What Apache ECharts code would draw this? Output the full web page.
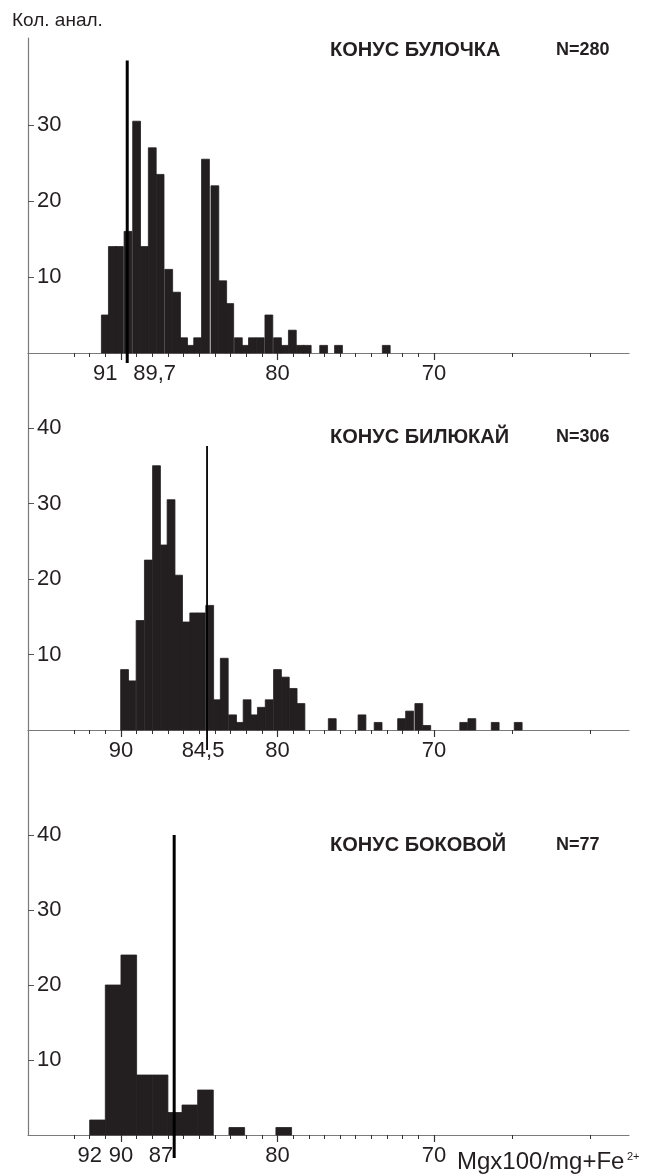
<!DOCTYPE html>
<html><head><meta charset="utf-8">
<script src="https://cdn.jsdelivr.net/npm/echarts@6/dist/echarts.min.js"></script>
<style>html,body{margin:0;padding:0;background:#fff}#c{width:647px;height:1176px}</style>
</head><body><div id="c"></div>
<script>
// ---- DATA ----
// Panel 1: КОНУС БУЛОЧКА (bin centres, counts)
const bins1   = [91.0, 90.55, 90.1, 89.55, 89.0, 88.5, 88.0, 87.5, 86.95, 86.45, 86.0, 85.55, 85.1, 84.6, 84.0, 83.5, 83.05, 82.5, 82.05, 81.6, 81.1, 80.55, 80.0, 79.55, 79.05, 78.55, 78.1, 77.05, 76.1, 73.05];
const counts1 = [5, 14, 14, 16, 30.5, 14, 27, 23.5, 11, 8, 2, 1, 2, 25.5, 22, 9.5, 6.5, 2, 1, 2, 2, 5, 2, 1, 3, 1, 1, 1, 1, 1];
const mean1 = 89.6;
const meanTop1 = 38.5;

// Panel 2: КОНУС БИЛЮКАЙ
const bins2   = [89.77, 89.3, 88.78, 88.25, 87.73, 87.24, 86.8, 86.32, 85.82, 85.35, 84.87, 84.33, 83.85, 83.4, 82.87, 82.41, 81.94, 81.45, 81.03, 80.53, 80.0, 79.5, 79.0, 78.5, 76.5, 74.6, 73.57, 72.07, 71.56, 70.97, 70.46, 68.1, 67.58, 66.09, 64.62];
const counts2 = [8, 6.5, 14.5, 22.5, 35, 24.5, 30.5, 20.5, 14.3, 15.5, 15.5, 16.5, 4, 9.5, 2, 1, 4, 2, 3, 4, 8, 7, 5.5, 3.5, 1.5, 2, 1, 1.5, 2.5, 3.5, 0.6, 1, 1.5, 1, 1];
const mean2 = 84.5;
const meanTop2 = 37.6;

// Panel 3: КОНУС БОКОВОЙ
const bins3   = [91.5, 90.5, 89.5, 88.5, 87.5, 86.5, 85.6, 84.6, 82.6, 79.6];
const counts3 = [2, 20, 24, 8, 8, 3, 4, 6, 1, 1];
const mean3 = 86.6;
const meanTop3 = 40;

// Axis ticks / labels
const xLabels1 = [91, 89.7, 80, 70];
const xLabels2 = [90, 84.5, 80, 70];
const xLabels3 = [92, 90, 87, 80, 70];
const xMinorTicks = [93, 92, 91, 89, 88, 87, 86, 85, 84, 83, 82, 81, 79, 78, 77, 76, 75, 74, 73, 72, 71, 65, 60];
const xMajorTicks = [90, 80, 70];
const yLabels1 = [10, 20, 30];
const yLabels2 = [10, 20, 30, 40];
const yLabels3 = [10, 20, 30, 40];

const titles = [
  { name: 'КОНУС БУЛОЧКА', n: 'N=280' },
  { name: 'КОНУС БИЛЮКАЙ', n: 'N=306' },
  { name: 'КОНУС БОКОВОЙ', n: 'N=77' }
];

// ---- CHART ----
const FONT = "'Liberation Sans', Arial, sans-serif";
const INK = '#231f20';
const AXIS = '#7a7a7a';
const X_MIN = 57.54, X_MAX = 95.94;

const chart = echarts.init(document.getElementById('c'), null, { renderer: 'canvas' });

const grids = [
  { left: 28, width: 601, top: 38,  height: 315, yMax: 41.45, bw: 0.5 },
  { left: 28, width: 601, top: 353, height: 377, yMax: 49.93, bw: 0.5 },
  { left: 28, width: 601, top: 730, height: 405, yMax: 54,    bw: 1.0 }
];
const panels = [
  { bins: bins1, counts: counts1, mean: mean1, meanTop: meanTop1, xl: xLabels1, yl: yLabels1, lw: 3,   ext: 10 },
  { bins: bins2, counts: counts2, mean: mean2, meanTop: meanTop2, xl: xLabels2, yl: yLabels2, lw: 1.8, ext: 20 },
  { bins: bins3, counts: counts3, mean: mean3, meanTop: meanTop3, xl: xLabels3, yl: yLabels3, lw: 3,   ext: 23 }
];
const labelShift = { '89,7': 'sr', '84,5': 'sl1', '87': 'sl2' };
const fmtNum = v => String(v).replace('.', ',');

const option = {
  animation: false,
  backgroundColor: '#fff',
  grid: [], xAxis: [], yAxis: [], series: [], graphic: []
};

panels.forEach((p, i) => {
  const g = grids[i];
  option.grid.push({ left: g.left, width: g.width, top: g.top, height: g.height, outerBoundsMode: 'none', containLabel: false });
  // main x axis: line + minor ticks + labels
  option.xAxis.push({
    type: 'value', gridIndex: i, min: X_MIN, max: X_MAX, inverse: true, position: 'bottom',
    splitLine: { show: false },
    axisLine: { show: true, lineStyle: { color: AXIS, width: 1.2 } },
    axisTick: { show: true, customValues: xMinorTicks, length: 4, lineStyle: { color: '#333', width: 1 } },
    axisLabel: {
      show: true, customValues: p.xl, margin: 10, color: INK, fontFamily: FONT, fontSize: 22,
      formatter: v => { const t = fmtNum(v); const k = labelShift[t]; return k ? '{' + k + '|' + t + '}' : t; },
      rich: {
        sr:  { padding: [0, 0, 0, 58], fontSize: 22, fontFamily: FONT, color: INK },
        sl1: { padding: [0, 8, 0, 0],  fontSize: 22, fontFamily: FONT, color: INK },
        sl2: { padding: [0, 14, 0, 0], fontSize: 22, fontFamily: FONT, color: INK }
      }
    }
  });
  // overlay x axis: longer major ticks
  option.xAxis.push({
    type: 'value', gridIndex: i, min: X_MIN, max: X_MAX, inverse: true, position: 'bottom',
    splitLine: { show: false }, axisLine: { show: false },
    axisTick: { show: true, customValues: xMajorTicks, length: 7, lineStyle: { color: '#333', width: 1.2 } },
    axisLabel: { show: false }
  });
  option.yAxis.push({
    type: 'value', gridIndex: i, min: 0, max: g.yMax,
    splitLine: { show: false },
    axisLine: { show: true, lineStyle: { color: AXIS, width: 1.2 } },
    axisTick: { show: true, inside: true, customValues: p.yl, length: 6, lineStyle: { color: '#555', width: 1 } },
    axisLabel: { show: true, inside: true, customValues: p.yl, margin: 9, color: INK, fontFamily: FONT, fontSize: 22 }
  });
  const bw = g.bw;
  option.series.push({
    type: 'custom', xAxisIndex: i * 2, yAxisIndex: i,
    data: p.bins.map((b, j) => [b, p.counts[j]]),
    encode: { x: 0, y: 1 },
    renderItem: (params, api) => {
      const x = api.value(0), h = api.value(1);
      const a = api.coord([x + bw / 2, h]);
      const b = api.coord([x - bw / 2, 0]);
      return { type: 'rect',
        shape: { x: Math.min(a[0], b[0]), y: a[1], width: Math.abs(b[0] - a[0]), height: b[1] - a[1] },
        style: { fill: INK, stroke: INK, lineWidth: 0.8 } };
    }
  });
  option.series.push({
    type: 'custom', xAxisIndex: i * 2, yAxisIndex: i, clip: false, z: 5,
    data: [[p.mean, p.meanTop]],
    encode: { x: 0, y: 1 },
    renderItem: (params, api) => {
      const top = api.coord([api.value(0), api.value(1)]);
      const base = api.coord([api.value(0), 0]);
      return { type: 'line', shape: { x1: top[0], y1: top[1], x2: base[0], y2: base[1] + p.ext },
        style: { stroke: '#000', lineWidth: p.lw } };
    }
  });
});

// titles
const titleY = [40, 427, 835];
titles.forEach((t, i) => {
  option.graphic.push({ type: 'text', left: 330, top: titleY[i],
    style: { text: t.name, font: 'bold 20px ' + FONT, fill: INK } });
  option.graphic.push({ type: 'text', left: 556, top: titleY[i] + 1,
    style: { text: t.n, font: 'bold 18px ' + FONT, fill: INK } });
});
option.graphic.push({ type: 'text', left: 12, top: 11, style: { text: 'Кол. анал.', font: '19px ' + FONT, fill: INK } });
option.graphic.push({ type: 'text', left: 457, top: 1150, style: { text: 'Mgx100/mg+Fe', font: '24px ' + FONT, fill: INK } });
option.graphic.push({ type: 'text', left: 627, top: 1151, style: { text: '2+', font: '11px ' + FONT, fill: INK } });

chart.setOption(option);
</script>
</body></html>
